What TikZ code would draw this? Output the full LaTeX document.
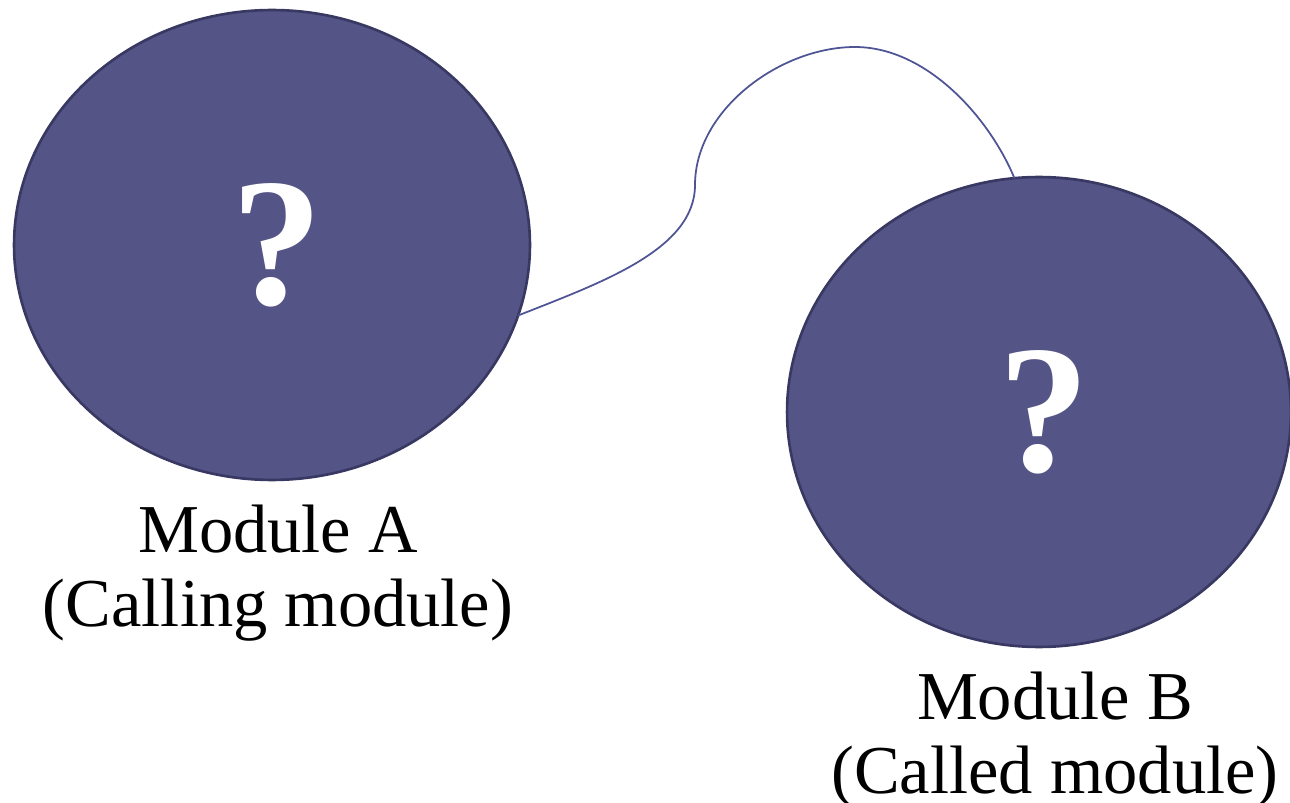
\documentclass[tikz,border=0pt]{standalone}
\usepackage{fontspec}
\setmainfont{Liberation Serif}
\usetikzlibrary{shapes.geometric}
\definecolor{modfill}{HTML}{545487}
\definecolor{modedge}{HTML}{383862}
\definecolor{linkcol}{HTML}{4F5494}
\tikzset{
  module/.style={ellipse, draw=modedge, fill=modfill, line width=1.5pt,
    inner sep=0pt, outer sep=0pt, text=white,
    font=\fontsize{104}{110}\selectfont\bfseries},
  modlabel/.style={align=center, inner sep=0pt,
    font=\fontsize{39}{42.5}\selectfont},
  link/.style={draw=linkcol, line width=1pt}
}
\begin{document}
\begin{tikzpicture}[x=0.02cm, y=-0.02cm]
  \useasboundingbox (0,0) rectangle (1290,803);
  % the two modules
  \node[module, minimum width=10.32cm, minimum height=9.4cm] (A) at (272,245) {\hspace{6pt}?};
  \node[module, minimum width=10.08cm, minimum height=9.4cm] (B) at (1039,412) {\hspace{6pt}?};
  % captions
  \node[modlabel] (labA) at (278,573) {Module A\\(Calling module)};
  \node[modlabel] (labB) at (1055,740) {Module B\\(Called module)};
  % call link between the modules
  \coordinate (hump) at (695,185);
  \coordinate (top) at (855,47);
  \draw[link] (A.-16) .. controls (600,283) and (695,250) .. (hump)
    .. controls (695,110) and (780,47) .. (top)
    .. controls (925,47) and (988,115) .. (B.96);
\end{tikzpicture}
\end{document}
